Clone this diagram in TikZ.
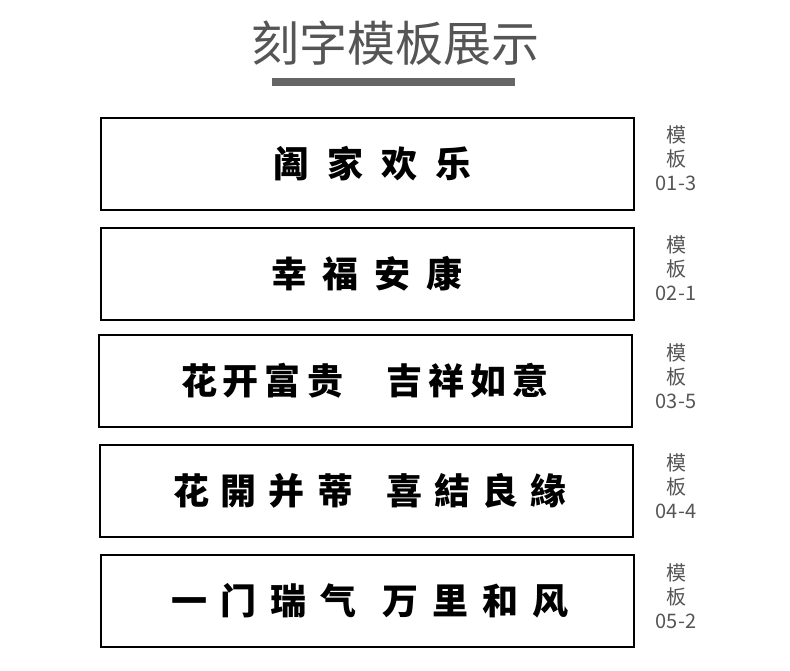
\documentclass[tikz,border=0pt]{standalone}
\usepackage{fontspec}
\newfontfamily\cjk{Noto Sans CJK SC}
\definecolor{titlegray}{HTML}{555555}
\definecolor{bargray}{HTML}{666666}
\begin{document}
\begin{tikzpicture}[x=1pt,y=-1pt,
  plate/.style={draw=black,line width=1.8pt},
  motto/.style={font=\cjk\bfseries\fontsize{36}{36}\selectfont,anchor=center},
  tag/.style={font=\cjk\fontsize{20}{24}\selectfont,text=titlegray,align=center,anchor=north}]
\useasboundingbox (0,0) rectangle (790,671);
% title and bar
\node[font=\cjk\fontsize{48}{48}\selectfont,text=titlegray] (title) at (395,43) {刻字模板展示};
\fill[bargray] (272,78) rectangle (515,86);
% plates
\draw[plate] (101,118) rectangle (634,210);
\draw[plate] (101,228) rectangle (634,320);
\draw[plate] (99,335) rectangle (632,427);
\draw[plate] (100,445) rectangle (633,537);
\draw[plate] (101,555) rectangle (634,647);
\node[motto] (m1) at (372,164) {阖\hspace{18pt}家\hspace{18pt}欢\hspace{18pt}乐};
\node[motto] (m2) at (367,274) {幸\hspace{16pt}福\hspace{16pt}安\hspace{16pt}康};
\node[motto] (m3) at (365,381) {花\hspace{6pt}开\hspace{6pt}富\hspace{6pt}贵\hspace{44pt}吉\hspace{6pt}祥\hspace{6pt}如\hspace{6pt}意};
\node[motto] (m4) at (370,491) {花\hspace{12pt}開\hspace{12pt}并\hspace{12pt}蒂\hspace{34pt}喜\hspace{12pt}結\hspace{12pt}良\hspace{12pt}緣};
\node[motto] (m5) at (370,601) {一\hspace{14pt}门\hspace{14pt}瑞\hspace{14pt}气\hspace{26pt}万\hspace{14pt}里\hspace{14pt}和\hspace{14pt}风};
% tags
\node[tag] (t1) at (676,122) {模\\板\\01-3};
\node[tag] (t2) at (676,232) {模\\板\\02-1};
\node[tag] (t3) at (676,340) {模\\板\\03-5};
\node[tag] (t4) at (676,450) {模\\板\\04-4};
\node[tag] (t5) at (676,560) {模\\板\\05-2};
\end{tikzpicture}
\end{document}
